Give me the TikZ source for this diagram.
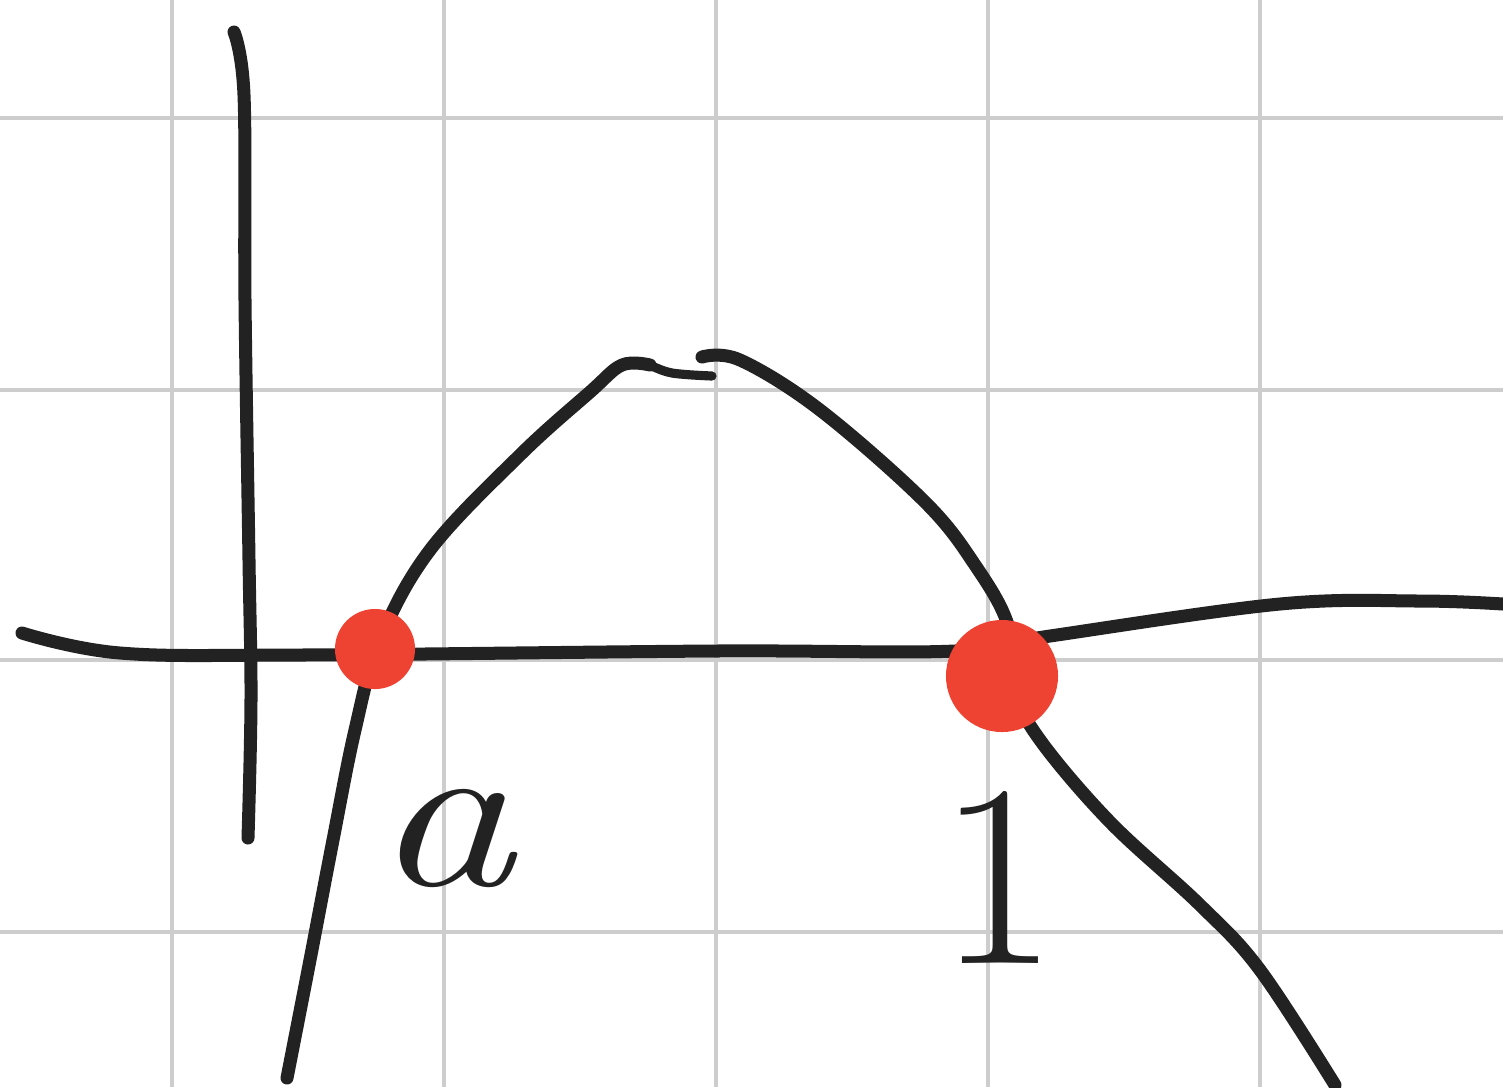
\documentclass[tikz,border=0pt]{standalone}
\usepackage{fontspec}
\usepackage{xcolor}
\usepackage{tikz}
\usetikzlibrary{positioning}

\begin{document}
\begin{tikzpicture}[
    x=0.01cm, y=-0.01cm,
    gridline/.style={draw=gridgray, line width=1pt},
    ink/.style={
        draw=inkblack,
        line width=3.7pt,
        line cap=round,
        line join=round
    },
    thinink/.style={ink, line width=2.6pt},
    dot/.style={circle, fill=dotred, inner sep=0pt},
    handlabel/.style={text=inkblack, inner sep=0pt}
]

% Colors
\definecolor{inkblack}{RGB}{34,34,34}
\definecolor{dotred}{RGB}{238,66,50}
\definecolor{gridgray}{RGB}{205,205,205}

\useasboundingbox[fill=white] (0,0) rectangle (1503,1087);

% Grid
\foreach \gx in {172,444,716,988,1260}
    \draw[gridline] (\gx,0) -- (\gx,1087);
\foreach \gy in {118,390,660,932}
    \draw[gridline] (0,\gy) -- (1503,\gy);

% Axes
\draw[ink] plot[smooth, tension=0.6] coordinates {
    (234,32) (244,95) (245,300) (249,560) (251,700) (248,838)};
\draw[ink] plot[smooth, tension=0.6] coordinates {
    (22,633) (120,653) (300,655) (716,651) (955,651) (1050,636)
    (1280,604) (1420,601) (1503,604)};

% Curve, left piece
\draw[ink] plot[smooth, tension=0.6] coordinates {
    (287,1078) (310,960) (333,840) (355,730) (380,640) (430,550)
    (520,455) (590,392) (622,365) (650,365)};
\draw[thinink] plot[smooth, tension=0.6] coordinates {
    (650,365) (672,373) (712,376)};

% Curve, right piece
\draw[ink] plot[smooth, tension=0.6] coordinates {
    (702,357) (740,360) (820,410) (925,502) (975,565) (1008,625)
    (1015,690) (1040,740) (1110,822) (1200,905) (1260,970) (1335,1085)};

% Roots
\node[dot, minimum size=0.8cm] (rootA) at (375,649) {};
\node[dot, minimum size=1.12cm] (rootOne) at (1002,676) {};

% Labels
\node[handlabel, font=\fontsize{62}{62}\selectfont\itshape, xscale=1.3] (labelA)
    at (443,838) {a};
\node[handlabel, font=\fontsize{74}{74}\selectfont] (labelOne)
    at (998,877) {1};

\end{tikzpicture}
\end{document}
